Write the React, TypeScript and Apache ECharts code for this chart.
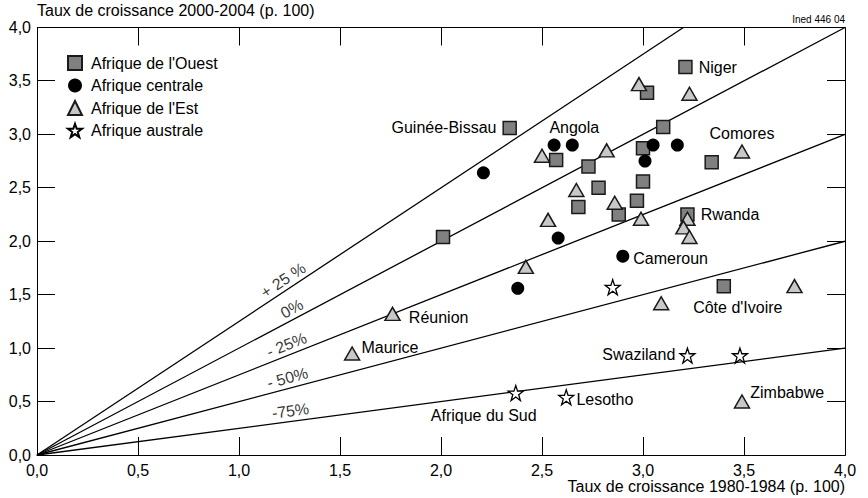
import React, { useEffect, useRef } from "react";
import * as echarts from "echarts";

// Afrique de l'Ouest (squares)
const ouest: [number, number][] = [
  [2.34, 3.06], [2.01, 2.04], [2.57, 2.76], [2.73, 2.7], [3.21, 3.63], [3.02, 3.39],
  [3.1, 3.07], [3.0, 2.87], [2.78, 2.5], [2.68, 2.32], [3.0, 2.56], [2.97, 2.38],
  [2.88, 2.25], [3.34, 2.74], [3.22, 2.25], [3.4, 1.58],
];
const ouestNames: Record<number, string> = { 0: "Guinée-Bissau", 4: "Niger", 14: "Rwanda", 15: "Côte d'Ivoire" };

// Afrique centrale (circles)
const centrale: [number, number][] = [
  [2.21, 2.64], [2.56, 2.9], [2.65, 2.9], [2.58, 2.03], [2.38, 1.56], [2.9, 1.86],
  [3.05, 2.9], [3.01, 2.75], [3.17, 2.9],
];
const centraleNames: Record<number, string> = { 2: "Angola", 5: "Cameroun" };

// Afrique de l'Est (triangles)
const est: [number, number][] = [
  [2.5, 2.8], [2.82, 2.85], [2.67, 2.48], [2.86, 2.36], [2.99, 2.21], [2.53, 2.2],
  [3.22, 2.21], [3.2, 2.13], [3.23, 2.04], [2.42, 1.76], [3.09, 1.42], [3.75, 1.58],
  [3.49, 2.84], [3.23, 3.38], [2.98, 3.47], [1.76, 1.32], [1.56, 0.95], [3.49, 0.5],
];
const estNames: Record<number, string> = { 12: "Comores", 15: "Réunion", 16: "Maurice", 17: "Zimbabwe" };

// Afrique australe (stars)
const australe: [number, number][] = [
  [2.85, 1.57], [2.37, 0.58], [2.62, 0.54], [3.22, 0.93], [3.48, 0.93],
];
const australeNames: Record<number, string> = { 1: "Afrique du Sud", 2: "Lesotho", 3: "Swaziland" };

// Reference lines y = slope * x
const slopes = [1.25, 1, 0.75, 0.5, 0.25];
const slopeLabels = ["+ 25 %", "0%", "- 25%", "- 50%", "-75%"];
const slopeLabelX = [1.24, 1.28, 1.25, 1.25, 1.26];

// Axis ticks (both axes)
const axisTicks = [0, 0.5, 1, 1.5, 2, 2.5, 3, 3.5, 4];
const AXIS_MIN = 0;
const AXIS_MAX = 4;

const FONT = "Liberation Sans, Arial, sans-serif";
const GRID = { left: 37, right: 23, top: 27.5, bottom: 43 };
const TICK_LEN = 18;

const placement: Record<string, any> = {
  "Guinée-Bissau": { position: "left", distance: 6 },
  Niger: { position: "right", distance: 6 },
  Rwanda: { position: "right", distance: 6 },
  "Côte d'Ivoire": { position: "bottom", distance: 6, offset: [14, 0] },
  Angola: { position: "top", distance: 3, offset: [2, 0] },
  Cameroun: { position: "right", distance: 4, offset: [0, 2] },
  Comores: { position: "top", distance: 3 },
  "Réunion": { position: "right", distance: 8, offset: [0, 4] },
  Maurice: { position: "right", distance: 1, offset: [0, -6] },
  Zimbabwe: { position: "right", distance: 0, offset: [0, -9] },
  "Afrique du Sud": { position: "bottom", distance: 6, offset: [-32, 0] },
  Lesotho: { position: "right", distance: 2, offset: [0, 2] },
  Swaziland: { position: "left", distance: 4, offset: [0, -1] },
};

const STAR =
  "path://M50,2 L61.5,36 L97,36 L68.5,57.5 L79,92 L50,71 L21,92 L31.5,57.5 L3,36 L38.5,36 Z";

function withLabels(pts: [number, number][], names: Record<number, string>) {
  return pts.map((p, i) => {
    const n = names[i];
    if (!n) return p;
    return {
      value: p,
      label: { show: true, formatter: n, color: "#000", fontSize: 16, fontFamily: FONT, ...placement[n] },
    };
  });
}

const fmt = (v: number) => v.toFixed(1).replace(".", ",");

function labelAxis(pos: string, margin: number) {
  return {
    type: "value",
    show: true,
    position: pos,
    min: AXIS_MIN,
    max: AXIS_MAX,
    interval: 0.5,
    axisLine: { show: true, onZero: false, lineStyle: { color: "#000", width: 1 } },
    axisTick: { show: false },
    splitLine: { show: false },
    axisLabel: {
      show: true,
      color: "#000",
      fontSize: 16,
      fontFamily: FONT,
      margin,
      formatter: (v: number) => (axisTicks.includes(v) ? fmt(v) : ""),
    },
  };
}

const crisp = (v: number) => Math.round(v - 0.5) + 0.5;

export default function App() {
  const ref = useRef<HTMLDivElement>(null);
  useEffect(() => {
    if (!ref.current) return;
    const chart = echarts.init(ref.current, undefined, { renderer: "svg" });
    const gw = 868 - GRID.left - GRID.right;
    const gh = 498 - GRID.top - GRID.bottom;
    const ratio = gh / gw;

    const lineSeries = slopes.map((s) => ({
      type: "line",
      data: [[0, 0], [Math.min(4, 4 / s), s * Math.min(4, 4 / s)]],
      symbol: "none",
      silent: true,
      lineStyle: { color: "#000", width: 1.3 },
    }));

    const labelSeries = {
      type: "scatter",
      silent: true,
      symbolSize: 1,
      itemStyle: { color: "rgba(0,0,0,0)" },
      data: slopes.map((s, i) => ({
        value: [slopeLabelX[i], s * slopeLabelX[i]],
        label: {
          show: true,
          formatter: slopeLabels[i],
          position: "top",
          distance: 2,
          rotate: (Math.atan(s * ratio) * 180) / Math.PI,
          color: "#000",
          fontSize: 16,
          fontFamily: FONT,
        },
      })),
    };

    // Frame and inward ticks on all four sides, placed through the axes' scales
    const frameSeries = {
      type: "custom",
      silent: true,
      clip: false,
      z: 10,
      encode: { x: 0, y: 1 },
      data: axisTicks.map((v) => [v, v]),
      renderItem: (params: any, api: any) => {
        const v = api.value(0);
        const pb = api.coord([v, AXIS_MIN]);
        const pt = api.coord([v, AXIS_MAX]);
        const pl = api.coord([AXIS_MIN, v]);
        const pr = api.coord([AXIS_MAX, v]);
        const x = crisp(pb[0]);
        const y = crisp(pl[1]);
        const style = { stroke: "#000", lineWidth: 1, fill: "none" };
        const children: any[] = [
          { type: "line", shape: { x1: x, y1: pb[1], x2: x, y2: pb[1] - TICK_LEN }, style },
          { type: "line", shape: { x1: x, y1: pt[1], x2: x, y2: pt[1] + TICK_LEN }, style },
          { type: "line", shape: { x1: pl[0], y1: y, x2: pl[0] + TICK_LEN, y2: y }, style },
          { type: "line", shape: { x1: pr[0], y1: y, x2: pr[0] - TICK_LEN, y2: y }, style },
        ];
        if (params.dataIndex === 0) {
          const cs = params.coordSys;
          children.push({
            type: "rect",
            shape: { x: crisp(cs.x), y: crisp(cs.y), width: Math.round(cs.width), height: Math.round(cs.height) },
            style,
          });
        }
        return { type: "group", children };
      },
    };

    chart.setOption({
      animation: false,
      grid: { ...GRID },
      legend: {
        orient: "vertical",
        left: 62,
        top: 50,
        itemWidth: 14,
        itemHeight: 14,
        itemGap: 6.5,
        textStyle: { color: "#000", fontSize: 16, fontFamily: FONT, padding: [0, 0, 0, 4] },
        data: ["Afrique de l'Ouest", "Afrique centrale", "Afrique de l'Est", "Afrique australe"],
      },
      xAxis: labelAxis("bottom", 7),
      yAxis: labelAxis("left", 6),
      graphic: [
        {
          type: "text",
          left: 37,
          top: 2,
          style: { text: "Taux de croissance 2000-2004 (p. 100)", fill: "#000", font: `16px ${FONT}` },
        },
        {
          type: "text",
          right: 23,
          top: 14,
          style: { text: "Ined 446 04", fill: "#000", font: `10px ${FONT}` },
        },
        {
          type: "text",
          right: 23,
          top: 478,
          style: { text: "Taux de croissance 1980-1984 (p. 100)", fill: "#000", font: `16px ${FONT}` },
        },
      ],
      series: [
        ...lineSeries,
        labelSeries,
        frameSeries,
        {
          name: "Afrique de l'Ouest",
          type: "scatter",
          symbol: "rect",
          symbolSize: 13,
          itemStyle: { color: "#808080", borderColor: "#1a1a1a", borderWidth: 1.5, opacity: 1 },
          data: withLabels(ouest, ouestNames),
          z: 3,
        },
        {
          name: "Afrique centrale",
          type: "scatter",
          symbol: "circle",
          symbolSize: 13,
          itemStyle: { color: "#000", opacity: 1 },
          data: withLabels(centrale, centraleNames),
          z: 4,
        },
        {
          name: "Afrique de l'Est",
          type: "scatter",
          symbol: "triangle",
          symbolSize: [15, 13],
          itemStyle: { color: "#c8c8c8", borderColor: "#1a1a1a", borderWidth: 1.5, opacity: 1 },
          data: withLabels(est, estNames),
          z: 5,
        },
        {
          name: "Afrique australe",
          type: "scatter",
          symbol: STAR,
          symbolSize: 15,
          itemStyle: { color: "#fff", borderColor: "#000", borderWidth: 1.3, opacity: 1 },
          data: withLabels(australe, australeNames),
          z: 5,
        },
      ],
    });
    return () => chart.dispose();
  }, []);
  return <div ref={ref} style={{ position: "absolute", left: 0, top: 0, width: 868, height: 498 }} />;
}
